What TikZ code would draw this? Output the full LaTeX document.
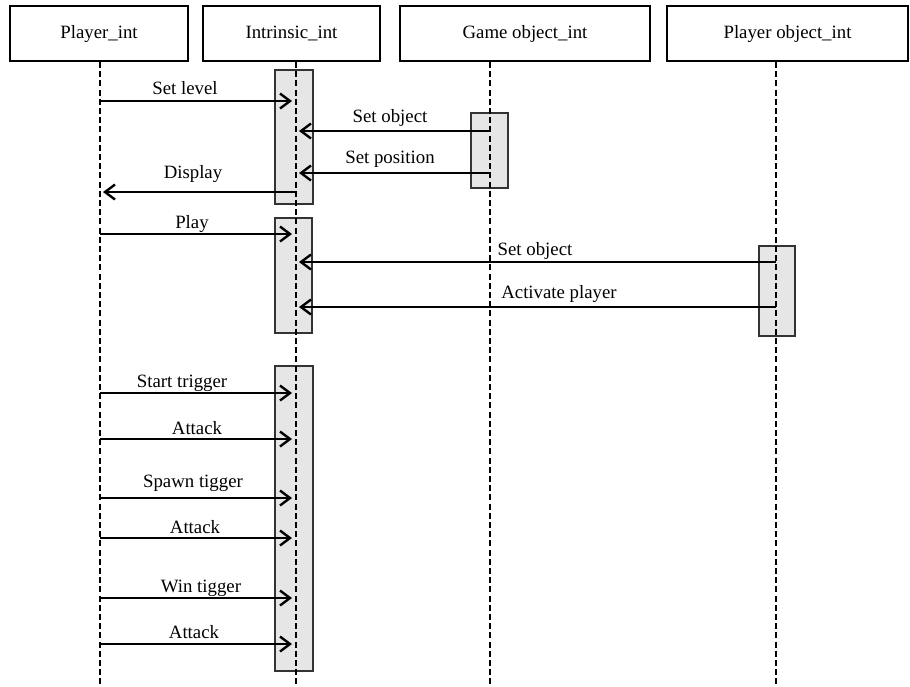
\documentclass[tikz,border=0pt]{standalone}
\usepackage{fontspec}
\setmainfont{Liberation Serif}
\usepackage{xcolor}
\usepackage{tikz}
\usetikzlibrary{arrows.meta}
\definecolor{actfill}{HTML}{E6E6E6}
\definecolor{actdraw}{HTML}{333333}
\tikzset{
	head/.style = {draw, line width=0.9pt, minimum height=27.5pt, inner sep=0pt, text height=5pt, text depth=0pt, font=\fontsize{9.4}{11}\selectfont},
	life/.style = {line width=0.8pt, dash pattern=on 3pt off 1.6pt},
	act/.style = {fill=actfill, draw=actdraw, line width=0.9pt},
	msg/.style = {line width=0.9pt, -{Straight Barb[length=5pt,width=7.5pt,line width=1.2pt]}},
	toact/.style = {msg, shorten >=2pt},
	backact/.style = {msg, shorten >=1.5pt},
	lbl/.style = {font=\fontsize{9.4}{11}\selectfont, inner sep=0pt, anchor=base}
}

\begin{document}
\begin{tikzpicture}[x=0.5pt, y=-0.5pt]
		\useasboundingbox (0,0) rectangle (910,686);
	
		\node[head, minimum width=89pt] (player) at (99,33.5) {Player\_int};
		\node[head, minimum width=88.5pt] (intr) at (291.5,33.5) {Intrinsic\_int};
		\node[head, minimum width=125pt] (game) at (525,33.5) {Game object\_int};
		\node[head, minimum width=120.5pt] (pobj) at (787.5,33.5) {Player object\_int};
	
		\coordinate (pl) at (100,686);
		\coordinate (in) at (296,686);
		\coordinate (go) at (490,686);
		\coordinate (po) at (776,686);
	
		\draw[act] (275,70) rectangle (313,204);
		\draw[act] (275,218) rectangle (312,333);
		\draw[act] (275,366) rectangle (313,671);
		\draw[act] (471,113) rectangle (508,188);
		\draw[act] (759,246) rectangle (795,336);
	
		\draw[life] (player.south -| pl) -- (pl);
		\draw[life] (intr.south -| in) -- (in);
		\draw[life] (game.south -| go) -- (go);
		\draw[life] (pobj.south -| po) -- (po);
	
		\draw[toact] (pl |- 0,101) -- (in |- 0,101);
		\node[lbl] (setlevel) at (185,94) {Set level};
		\draw[backact] (go |- 0,131) -- (in |- 0,131);
		\node[lbl] (setobj) at (390,122) {Set object};
		\draw[backact] (go |- 0,173) -- (in |- 0,173);
		\node[lbl] (setpos) at (390,163) {Set position};
		\draw[backact] (in |- 0,192) -- (pl |- 0,192);
		\node[lbl] (display) at (193,178) {Display};
	
		\draw[toact] (pl |- 0,234) -- (in |- 0,234);
		\node[lbl] (play) at (192,228) {Play};
		\draw[backact] (po |- 0,262) -- (in |- 0,262);
		\node[lbl] (setobjb) at (535,255) {Set object};
		\draw[backact] (po |- 0,307) -- (in |- 0,307);
		\node[lbl] (activate) at (559,298) {Activate player};
	
		\draw[toact] (pl |- 0,393) -- (in |- 0,393);
		\node[lbl] (start) at (182,387) {Start trigger};
		\draw[toact] (pl |- 0,439) -- (in |- 0,439);
		\node[lbl] (attacka) at (197,434) {Attack};
		\draw[toact] (pl |- 0,498) -- (in |- 0,498);
		\node[lbl] (spawn) at (193,487) {Spawn tigger};
		\draw[toact] (pl |- 0,538) -- (in |- 0,538);
		\node[lbl] (attackb) at (195,533) {Attack};
		\draw[toact] (pl |- 0,598) -- (in |- 0,598);
		\node[lbl] (win) at (201,592) {Win tigger};
		\draw[toact] (pl |- 0,644) -- (in |- 0,644);
		\node[lbl] (attackc) at (194,638) {Attack};
	\end{tikzpicture}
\end{document}
